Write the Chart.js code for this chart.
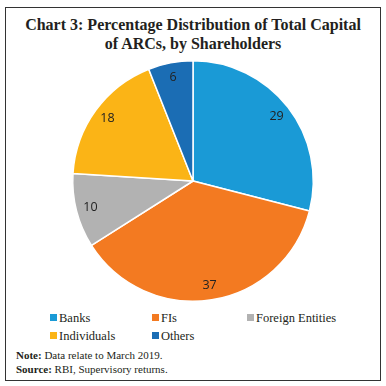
<!DOCTYPE html>
<html>
<head>
<meta charset="utf-8">
<script src="https://cdn.jsdelivr.net/npm/chart.js@4"></script>
<style>
  html, body { margin: 0; padding: 0; background: #fff; }
  body { width: 386px; height: 386px; position: relative; overflow: hidden; font-family: "Liberation Serif", "DejaVu Serif", serif; color: #231f20; }
  #frame { position: absolute; left: 5px; top: 7px; width: 374px; height: 372px; border: 1px solid #333; box-sizing: content-box; }
  #title { position: absolute; left: 0; top: 15px; width: 386px; text-align: center; font-weight: bold; font-size: 16px; line-height: 19px; }
  #wrap { position: absolute; left: 0; top: 60px; width: 386px; height: 242px; }
  #legend { position: absolute; left: 50px; top: 311px; font-size: 12.5px; }
  .li { position: absolute; white-space: nowrap; line-height: 14px; }
  .sw { display: inline-block; width: 7px; height: 7px; margin-right: 2px; vertical-align: 1px; }
  #notes { position: absolute; left: 16px; top: 348px; font-size: 11px; line-height: 14px; }
</style>
</head>
<body>
<div id="frame"></div>
<div id="title">Chart 3: Percentage Distribution of Total Capital<br>of ARCs, by Shareholders</div>
<div id="wrap"><canvas id="c"></canvas></div>
<div id="legend"></div>
<div id="notes"><b>Note:</b> Data relate to March 2019.<br><b>Source:</b> RBI, Supervisory returns.</div>
<script>
const categories = ["Banks", "FIs", "Foreign Entities", "Individuals", "Others"];
const shares = [29, 37, 10, 18, 6];
const colors = ["#1a9ad6", "#f37a21", "#b2b2b2", "#fbb416", "#1b6db4"];

const labelPlugin = {
  id: 'sliceLabels',
  afterDatasetsDraw(chart) {
    const ctx = chart.ctx;
    const meta = chart.getDatasetMeta(0);
    ctx.save();
    ctx.font = '12.5px "Open Sans", "Noto Sans", sans-serif';
    ctx.fillStyle = '#222';
    ctx.textAlign = 'center';
    ctx.textBaseline = 'middle';
    meta.data.forEach((arc, i) => {
      const p = arc.getProps(['x', 'y', 'startAngle', 'endAngle', 'outerRadius'], true);
      const mid = (p.startAngle + p.endAngle) / 2;
      const r = p.outerRadius * 0.88;
      ctx.fillText(String(chart.data.datasets[0].data[i]), p.x + Math.cos(mid) * r, p.y + Math.sin(mid) * r);
    });
    ctx.restore();
  }
};

const chart = new Chart(document.getElementById('c'), {
  type: 'pie',
  data: {
    labels: categories,
    datasets: [{ data: shares, backgroundColor: colors, borderColor: '#fff', borderWidth: 1.5 }]
  },
  options: {
    responsive: true,
    maintainAspectRatio: false,
    animation: false,
    layout: { padding: 0 },
    plugins: { legend: { display: false }, tooltip: { enabled: false } }
  },
  plugins: [labelPlugin]
});

// HTML legend built from the chart's own legend items
const legendPos = [[0, 0], [102, 0], [197, 0], [0, 18], [102, 18]];
const items = chart.options.plugins.legend.labels.generateLabels(chart);
const lg = document.getElementById('legend');
items.forEach((it, i) => {
  const d = document.createElement('div');
  d.className = 'li';
  d.style.left = legendPos[i][0] + 'px';
  d.style.top = legendPos[i][1] + 'px';
  d.innerHTML = '<span class="sw" style="background:' + it.fillStyle + '"></span>' + it.text;
  lg.appendChild(d);
});
</script>
</body>
</html>
